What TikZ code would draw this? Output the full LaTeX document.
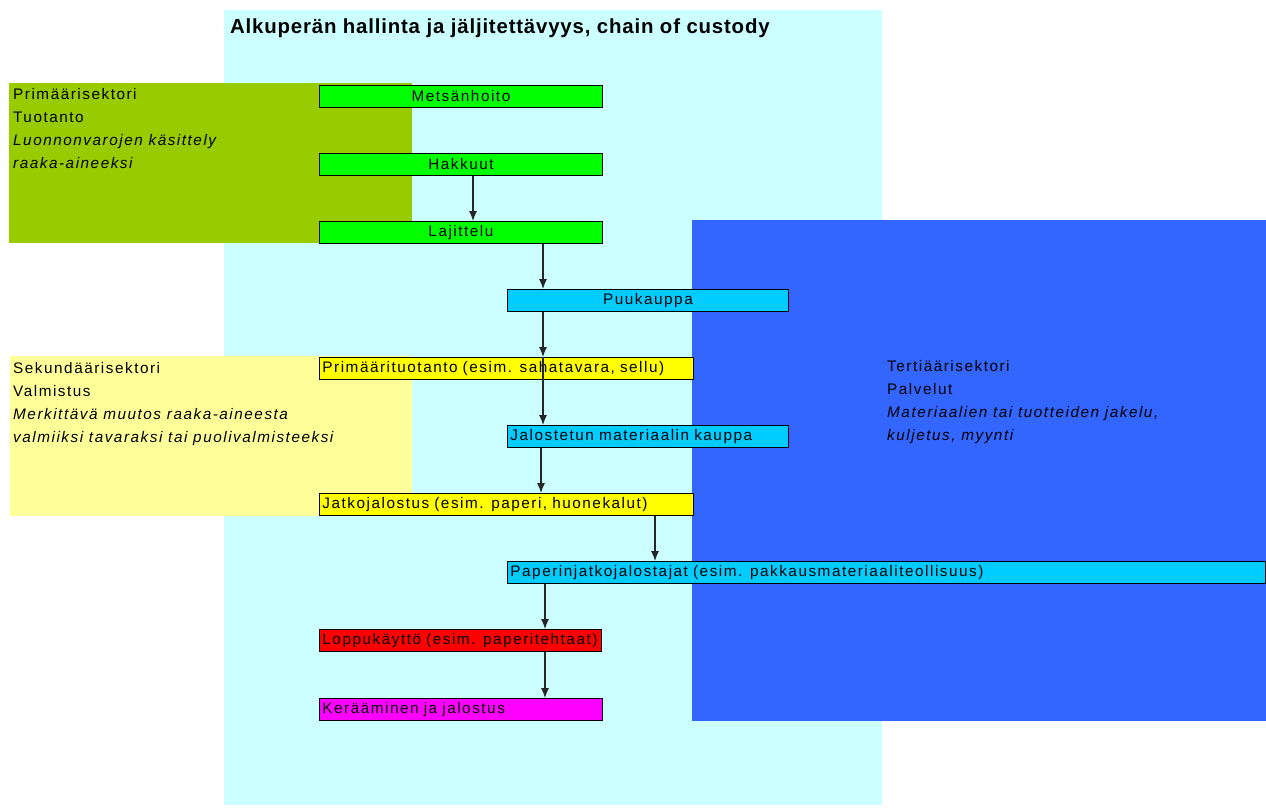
\documentclass[tikz,border=0pt]{standalone}
\usepackage{fontspec}
\setmainfont{Liberation Sans}[LetterSpace=10]
\usetikzlibrary{arrows.meta}

\definecolor{custodycyan}{HTML}{CCFFFF}
\definecolor{primolive}{HTML}{99CC00}
\definecolor{seclight}{HTML}{FFFF99}
\definecolor{tertblue}{HTML}{3366FF}
\definecolor{boxgreen}{HTML}{00FF00}
\definecolor{boxyellow}{HTML}{FFFF00}
\definecolor{boxcyan}{HTML}{00CCFF}
\definecolor{boxred}{HTML}{FF0000}
\definecolor{boxmagenta}{HTML}{FF00FF}

\tikzset{
  stepbox/.style = {draw = black, line width = 0.9pt, anchor = north west,
    minimum height = 22pt, inner sep = 0pt, inner xsep = 3pt,
    font = \fontsize{15.3}{17}\selectfont},
  cbox/.style = {stepbox, minimum width = #1},
  lbox/.style = {stepbox, text width = #1, align = left},
  sector/.style = {anchor = north west, inner sep = 0pt, align = left,
    font = \fontsize{15.3}{23}\selectfont},
  arr/.style = {-{Latex[length = 10pt, width = 8pt]}, line width = 1.1pt,
    draw = black!85}
}

\begin{document}
\begin{tikzpicture}[x = 1pt, y = -1pt]
  \useasboundingbox (0, 0) rectangle (1266, 807);

  \fill[custodycyan] (224, 10) rectangle (882, 805);
  \fill[primolive] (9, 83) rectangle (412, 243);
  \fill[seclight] (10, 356) rectangle (412, 516);
  \fill[tertblue] (692, 220) rectangle (1266, 721);

  \node[anchor = west, inner sep = 0pt,
    font = \bfseries\fontsize{20.4}{22}\selectfont\addfontfeatures{LetterSpace=4}]
    (title) at (230, 28) {Alkuperän hallinta ja jäljitettävyys, chain of custody};

  \node[sector] (primary) at (13, 88)
    {Primäärisektori\\Tuotanto\\\textit{Luonnonvarojen käsittely}\\\textit{raaka-aineeksi}};
  \node[sector] (secondary) at (13, 362)
    {Sekundäärisektori\\Valmistus\\\textit{Merkittävä muutos raaka-aineesta}\\
     \textit{valmiiksi tavaraksi tai puolivalmisteeksi}};
  \node[sector] (tertiary) at (887, 360)
    {Tertiäärisektori\\Palvelut\\\textit{Materiaalien tai tuotteiden jakelu,}\\
     \textit{kuljetus, myynti}};

  \node[cbox = 283pt, fill = boxgreen] (metsa) at (319, 85) {Metsänhoito};
  \node[cbox = 283pt, fill = boxgreen] (hakkuut) at (319, 153) {Hakkuut};
  \node[cbox = 283pt, fill = boxgreen] (lajittelu) at (319, 221) {Lajittelu};
  \node[cbox = 281pt, fill = boxcyan] (puukauppa) at (507, 289) {Puukauppa};
  \node[lbox = 368pt, fill = boxyellow] (primaari) at (319, 357)
    {Primäärituotanto (esim. sahatavara, sellu)};
  \node[lbox = 275pt, fill = boxcyan] (jalostettu) at (507, 425)
    {Jalostetun materiaalin kauppa};
  \node[lbox = 368pt, fill = boxyellow] (jatko) at (319, 493)
    {Jatkojalostus (esim. paperi, huonekalut)};
  \node[lbox = 752pt, fill = boxcyan] (paperi) at (507, 561)
    {Paperinjatkojalostajat (esim. pakkausmateriaaliteollisuus)};
  \node[lbox = 276pt, fill = boxred] (loppu) at (319, 629)
    {Loppukäyttö (esim. paperitehtaat)};
  \node[lbox = 277pt, fill = boxmagenta] (keraaminen) at (319, 698)
    {Kerääminen ja jalostus};

  \draw[arr] (hakkuut.south -| 473, 0) -- (lajittelu.north -| 473, 0);
  \draw[arr] (lajittelu.south -| 543, 0) -- (puukauppa.north -| 543, 0);
  \draw[arr] (puukauppa.south -| 543, 0) -- (primaari.north -| 543, 0);
  \draw[arr] (primaari.north -| 543, 0) -- (jalostettu.north -| 543, 0);
  \draw[arr] (jalostettu.south -| 541, 0) -- (jatko.north -| 541, 0);
  \draw[arr] (jatko.south -| 655, 0) -- (paperi.north -| 655, 0);
  \draw[arr] (paperi.south -| 545, 0) -- (loppu.north -| 545, 0);
  \draw[arr] (loppu.south -| 545, 0) -- (keraaminen.north -| 545, 0);

\end{tikzpicture}
\end{document}
